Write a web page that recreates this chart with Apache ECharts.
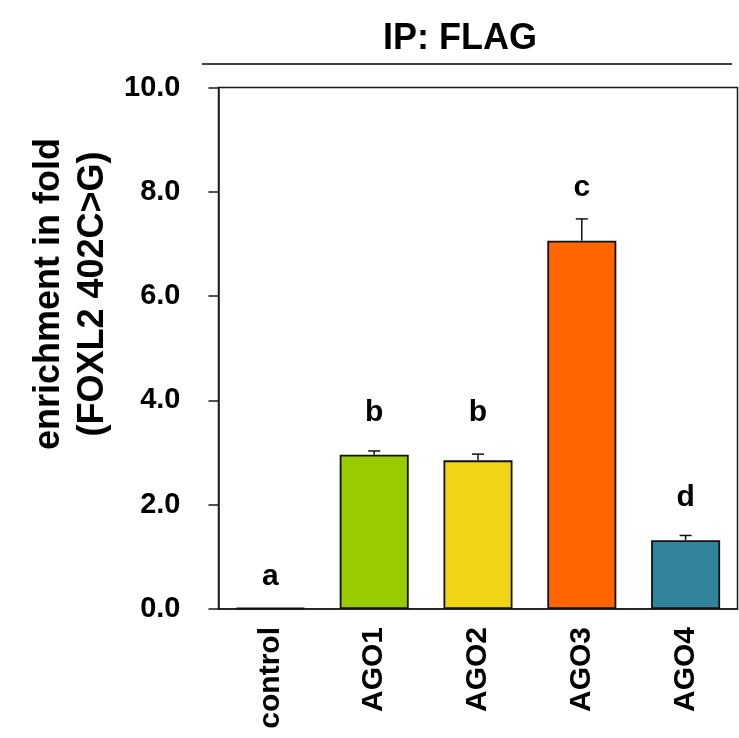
<!DOCTYPE html>
<html><head><meta charset="utf-8">
<script src="https://cdn.jsdelivr.net/npm/echarts@6/dist/echarts.min.js"></script>
<style>html,body{margin:0;padding:0;background:#fff}#c{width:739px;height:738px}</style>
</head><body><div id="c"></div>
<script>
const categories = ['control', 'AGO1', 'AGO2', 'AGO3', 'AGO4'];
const values = [0.02, 2.96, 2.85, 7.06, 1.32];
const errors = [0, 0.07, 0.12, 0.42, 0.09];
const letters = ['a', 'b', 'b', 'c', 'd'];
const letterY = [0.61, 3.76, 3.76, 8.08, 2.13];
const colors = ['#ffffff', '#99CC00', '#F0D416', '#FF6600', '#31849B'];
const yTicks = [0, 2, 4, 6, 8, 10];
const titleText = 'IP: FLAG';
const yTitle = 'enrichment in fold\n(FOXL2 402C>G)';

const FONT = '"Liberation Sans", Arial, sans-serif';
const chart = echarts.init(document.getElementById('c'));
chart.setOption({
  animation: false,
  backgroundColor: '#fff',
  grid: { left: 218.5, right: 1.5, top: 87.5, bottom: 129, show: true, borderColor: '#1a1a1a', borderWidth: 1.5, backgroundColor: 'transparent' },
  graphic: [
    { type: 'text', x: 460, y: 39.5, style: { text: titleText, font: 'bold 36px ' + FONT, fill: '#000', align: 'center', verticalAlign: 'middle' } },
    { type: 'line', shape: { x1: 202, y1: 64, x2: 732, y2: 64 }, style: { stroke: '#000', lineWidth: 1.5 } },
    { type: 'text', x: 71.5, y: 294, rotation: Math.PI / 2,
      style: { text: yTitle, font: 'bold 36px ' + FONT, lineHeight: 44, fill: '#000', align: 'center', verticalAlign: 'middle' } }
  ],
  xAxis: {
    type: 'category', data: categories,
    axisLine: { show: true, lineStyle: { color: '#1a1a1a', width: 1.5 } },
    axisTick: { show: false },
    axisLabel: { rotate: 90, margin: 18, color: '#000', fontFamily: FONT, fontWeight: 'bold', fontSize: 30 }
  },
  yAxis: {
    type: 'value', min: 0, max: 10, interval: 2,
    splitLine: { show: false },
    axisLine: { show: true, lineStyle: { color: '#1a1a1a', width: 1.5 } },
    axisTick: { show: true, length: 10, lineStyle: { color: '#1a1a1a', width: 1.5 } },
    axisLabel: { margin: 38, color: '#000', fontFamily: FONT, fontWeight: 'bold', fontSize: 29,
      formatter: v => yTicks.includes(v) ? v.toFixed(1) : '' }
  },
  series: [
    {
      type: 'bar', barCategoryGap: '33.5%',
      data: values.map((v, i) => ({ value: v, itemStyle: { color: colors[i] } })),
      itemStyle: { borderColor: '#111', borderWidth: 1.8 }
    },
    {
      type: 'custom', z: 5,
      data: values.map((v, i) => [i, v, v + errors[i]]),
      renderItem: function (params, api) {
        if (errors[params.dataIndex] === 0) return null;
        const lo = api.coord([api.value(0), api.value(1)]);
        const hi = api.coord([api.value(0), api.value(2)]);
        const hw = 6;
        return { type: 'group', children: [
          { type: 'line', shape: { x1: hi[0], y1: lo[1], x2: hi[0], y2: hi[1] }, style: { stroke: '#111', lineWidth: 1.5 } },
          { type: 'line', shape: { x1: hi[0] - hw, y1: hi[1], x2: hi[0] + hw, y2: hi[1] }, style: { stroke: '#111', lineWidth: 1.5 } }
        ]};
      }
    },
    {
      type: 'custom', z: 6,
      data: letterY.map((y, i) => [i, y]),
      renderItem: function (params, api) {
        const p = api.coord([api.value(0), api.value(1)]);
        return { type: 'text', x: p[0], y: p[1],
          style: { text: letters[params.dataIndex], font: 'bold 30px ' + FONT, fill: '#000', align: 'center', verticalAlign: 'middle' } };
      }
    }
  ]
});
</script></body></html>
